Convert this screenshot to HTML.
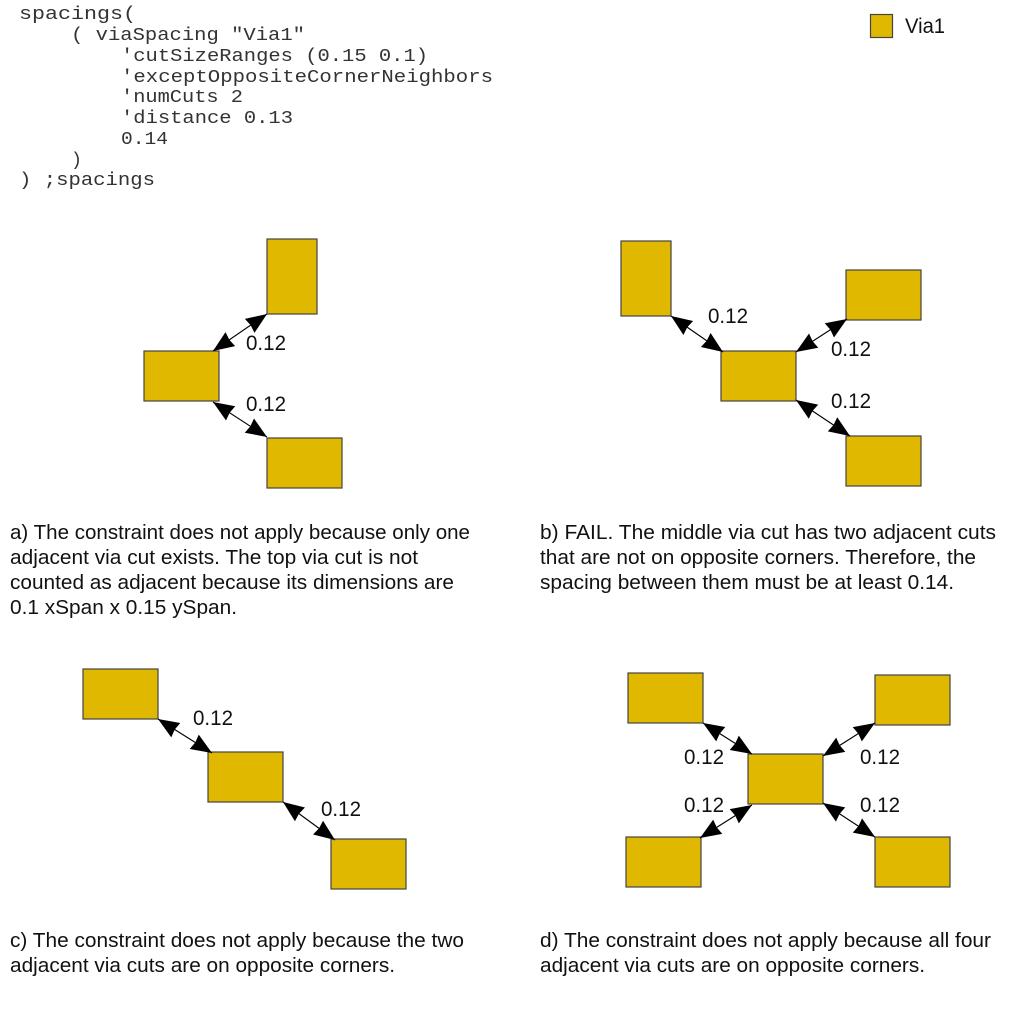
<!DOCTYPE html>
<html><head><meta charset="utf-8"><style>
html,body{margin:0;padding:0;background:#fff}
svg{display:block}
.c{font-family:"Liberation Mono",monospace;font-size:18.5px;fill:#333}
.s{font-family:"Liberation Sans",sans-serif;font-size:20px;fill:#111}
.l{font-size:21px}
.r{fill:#e0b800;stroke:#444;stroke-width:1.2}
.a{stroke:#000;stroke-width:1.1;fill:none;marker-start:url(#h);marker-end:url(#h)}
</style></head><body>
<svg width="1013" height="1014" viewBox="0 0 1013 1014" xmlns="http://www.w3.org/2000/svg">
<defs><marker id="h" markerUnits="userSpaceOnUse" markerWidth="26" markerHeight="22" refX="23" refY="11" orient="auto-start-reverse"><path d="M23,11 L2,2.5 L3.2,11 L2,19.5 Z" fill="#000"/></marker></defs>
<text class="c" lengthAdjust="spacingAndGlyphs" x="19" y="19" textLength="117">spacings(</text>
<text class="c" lengthAdjust="spacingAndGlyphs" x="71" y="40" textLength="234">( viaSpacing "Via1"</text>
<text class="c" lengthAdjust="spacingAndGlyphs" x="121" y="61" textLength="307">'cutSizeRanges (0.15 0.1)</text>
<text class="c" lengthAdjust="spacingAndGlyphs" x="121" y="82" textLength="372">'exceptOppositeCornerNeighbors</text>
<text class="c" lengthAdjust="spacingAndGlyphs" x="121" y="102" textLength="122">'numCuts 2</text>
<text class="c" lengthAdjust="spacingAndGlyphs" x="121" y="123" textLength="172">'distance 0.13</text>
<text class="c" lengthAdjust="spacingAndGlyphs" x="121" y="144" textLength="47">0.14</text>
<text class="c" lengthAdjust="spacingAndGlyphs" x="71" y="165" textLength="11">)</text>
<text class="c" lengthAdjust="spacingAndGlyphs" x="19" y="185" textLength="136">) ;spacings</text>
<rect class="r" x="870.5" y="14.5" width="22" height="23"/>
<text class="s l" lengthAdjust="spacingAndGlyphs" x="905" y="33" textLength="40">Via1</text>
<g>
<rect class="r" x="267" y="239" width="50" height="75"/><rect class="r" x="144" y="351" width="75" height="50"/><rect class="r" x="267" y="438" width="75" height="50"/>
<rect class="r" x="621" y="241" width="50" height="75"/><rect class="r" x="846" y="270" width="75" height="50"/><rect class="r" x="721" y="351" width="75" height="50"/><rect class="r" x="846" y="436" width="75" height="50"/>
<rect class="r" x="83" y="669" width="75" height="50"/><rect class="r" x="208" y="752" width="75" height="50"/><rect class="r" x="331" y="839" width="75" height="50"/>
<rect class="r" x="628" y="673" width="75" height="50"/><rect class="r" x="875" y="675" width="75" height="50"/><rect class="r" x="748" y="754" width="75" height="50"/><rect class="r" x="626" y="837" width="75" height="50"/><rect class="r" x="875" y="837" width="75" height="50"/>
</g>
<g>
<line class="a" x1="213" y1="351" x2="267" y2="314"/><line class="a" x1="213" y1="402" x2="267" y2="437"/>
<line class="a" x1="671" y1="316" x2="723" y2="352"/><line class="a" x1="796" y1="352" x2="847" y2="319"/><line class="a" x1="796" y1="400" x2="850" y2="436"/>
<line class="a" x1="158" y1="719" x2="212" y2="753"/><line class="a" x1="283" y1="802" x2="335" y2="840"/>
<line class="a" x1="703" y1="723" x2="752" y2="754"/><line class="a" x1="823" y1="756" x2="875" y2="723"/><line class="a" x1="752" y1="805" x2="700" y2="838"/><line class="a" x1="823" y1="803" x2="875" y2="837"/>
</g>
<g>
<text class="s l" lengthAdjust="spacingAndGlyphs" x="246" y="350" textLength="40">0.12</text><text class="s l" lengthAdjust="spacingAndGlyphs" x="246" y="411" textLength="40">0.12</text>
<text class="s l" lengthAdjust="spacingAndGlyphs" x="708" y="323" textLength="40">0.12</text><text class="s l" lengthAdjust="spacingAndGlyphs" x="831" y="356" textLength="40">0.12</text><text class="s l" lengthAdjust="spacingAndGlyphs" x="831" y="408" textLength="40">0.12</text>
<text class="s l" lengthAdjust="spacingAndGlyphs" x="193" y="725" textLength="40">0.12</text><text class="s l" lengthAdjust="spacingAndGlyphs" x="321" y="816" textLength="40">0.12</text>
<text class="s l" lengthAdjust="spacingAndGlyphs" x="684" y="764" textLength="40">0.12</text><text class="s l" lengthAdjust="spacingAndGlyphs" x="860" y="764" textLength="40">0.12</text><text class="s l" lengthAdjust="spacingAndGlyphs" x="684" y="812" textLength="40">0.12</text><text class="s l" lengthAdjust="spacingAndGlyphs" x="860" y="812" textLength="40">0.12</text>
</g>
<g>
<text class="s" lengthAdjust="spacingAndGlyphs" x="10" y="539" textLength="460">a) The constraint does not apply because only one</text>
<text class="s" lengthAdjust="spacingAndGlyphs" x="10" y="564" textLength="408">adjacent via cut exists. The top via cut is not</text>
<text class="s" lengthAdjust="spacingAndGlyphs" x="10" y="589" textLength="444">counted as adjacent because its dimensions are</text>
<text class="s" lengthAdjust="spacingAndGlyphs" x="10" y="614" textLength="227">0.1 xSpan x 0.15 ySpan.</text>
<text class="s" lengthAdjust="spacingAndGlyphs" x="540" y="539" textLength="456">b) FAIL. The middle via cut has two adjacent cuts</text>
<text class="s" lengthAdjust="spacingAndGlyphs" x="540" y="564" textLength="436">that are not on opposite corners. Therefore, the</text>
<text class="s" lengthAdjust="spacingAndGlyphs" x="540" y="589" textLength="414">spacing between them must be at least 0.14.</text>
<text class="s" lengthAdjust="spacingAndGlyphs" x="10" y="947" textLength="454">c) The constraint does not apply because the two</text>
<text class="s" lengthAdjust="spacingAndGlyphs" x="10" y="972" textLength="385">adjacent via cuts are on opposite corners.</text>
<text class="s" lengthAdjust="spacingAndGlyphs" x="540" y="947" textLength="451">d) The constraint does not apply because all four</text>
<text class="s" lengthAdjust="spacingAndGlyphs" x="540" y="972" textLength="385">adjacent via cuts are on opposite corners.</text>
</g>
</svg>
</body></html>
